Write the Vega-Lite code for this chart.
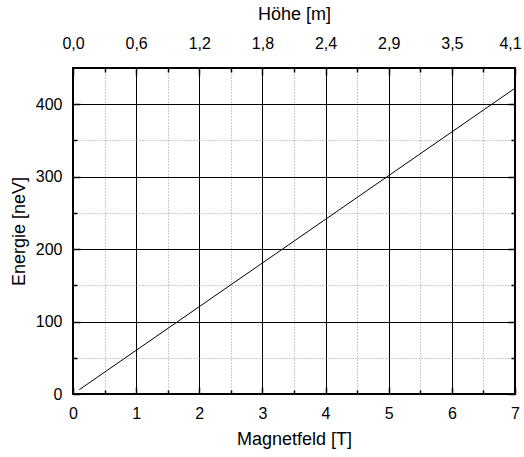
{
  "$schema": "https://vega.github.io/schema/vega-lite/v6.json",
  "width": 442,
  "height": 326,
  "autosize": {"type": "none"},
  "padding": {"left": 73, "top": 68, "right": 9, "bottom": 63},
  "background": "white",
  "config": {
    "view": {"stroke": "black", "strokeWidth": 2},
    "axis": {
      "labelFont": "Liberation Sans",
      "titleFont": "Liberation Sans",
      "labelFontSize": 16,
      "titleFontSize": 18,
      "titleFontWeight": "normal",
      "labelColor": "black",
      "titleColor": "black",
      "tickColor": "black",
      "tickWidth": 1.5,
      "labelFlush": false,
      "labelOverlap": false,
      "domain": false
    }
  },
  "data": {"values": [{"B": 0.1, "E": 6.0}, {"B": 7, "E": 422.1}]},
  "layer": [
    {
      "mark": {"type": "line", "stroke": "black", "strokeWidth": 1},
      "encoding": {
        "x": {"field": "B", "type": "quantitative", "scale": {"domain": [0, 7], "nice": false},
          "axis": {"orient": "bottom", "values": [0, 1, 2, 3, 4, 5, 6, 7], "format": "d", "grid": true, "gridColor": "black", "gridWidth": 1, "tickSize": -7, "labelPadding": 18, "title": "Magnetfeld [T]", "titlePadding": 9}},
        "y": {"field": "E", "type": "quantitative", "scale": {"domain": [0, 450], "nice": false},
          "axis": {"orient": "left", "values": [0, 100, 200, 300, 400], "format": "d", "grid": true, "gridColor": "black", "gridWidth": 1, "tickSize": -7, "labelPadding": 18, "title": "Energie [neV]", "titlePadding": 7}}
      }
    },
    {
      "mark": {"type": "line", "strokeOpacity": 0},
      "encoding": {
        "x": {"field": "B", "type": "quantitative",
          "axis": {"orient": "bottom", "values": [0.5, 1.5, 2.5, 3.5, 4.5, 5.5, 6.5], "grid": true, "gridColor": "#999999", "gridDash": [1, 2], "gridWidth": 1, "tickSize": -4, "labels": false, "title": null}},
        "y": {"field": "E", "type": "quantitative",
          "axis": {"orient": "left", "values": [50, 150, 250, 350], "grid": true, "gridColor": "#999999", "gridDash": [1, 2], "gridWidth": 1, "tickSize": -4, "labels": false, "title": null}}
      }
    },
    {
      "mark": {"type": "line", "strokeOpacity": 0},
      "encoding": {
        "x": {"field": "B", "type": "quantitative",
          "axis": {"orient": "top", "values": [0, 1, 2, 3, 4, 5, 6, 7], "grid": false, "tickSize": -7, "labelPadding": 24, "labelOffset": {"condition": {"test": "datum.value === 7", "value": -5}, "value": 0}, "labelExpr": "['0,0','0,6','1,2','1,8','2,4','2,9','3,5','4,1'][datum.value]", "title": "Höhe [m]", "titlePadding": 12}},
        "y": {"field": "E", "type": "quantitative",
          "axis": {"orient": "right", "values": [0, 100, 200, 300, 400], "grid": false, "tickSize": -7, "labels": false, "title": null}}
      }
    },
    {
      "mark": {"type": "line", "strokeOpacity": 0},
      "encoding": {
        "x": {"field": "B", "type": "quantitative",
          "axis": {"orient": "top", "values": [0.5, 1.5, 2.5, 3.5, 4.5, 5.5, 6.5], "grid": false, "tickSize": -4, "labels": false, "title": null}},
        "y": {"field": "E", "type": "quantitative",
          "axis": {"orient": "right", "values": [50, 150, 250, 350], "grid": false, "tickSize": -4, "labels": false, "title": null}}
      }
    }
  ],
  "resolve": {"axis": {"x": "independent", "y": "independent"}}
}
